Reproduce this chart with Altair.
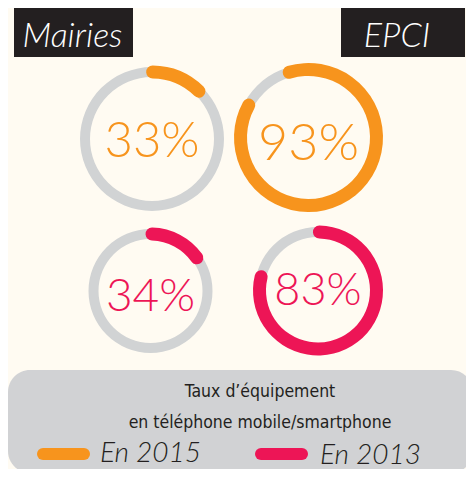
import altair as alt
import pandas as pd

# ---- data ----
groups = ["Mairies", "EPCI"]
years = ["En 2015", "En 2013"]
ring_group = ["Mairies", "EPCI", "Mairies", "EPCI"]
ring_year = ["En 2015", "En 2015", "En 2013", "En 2013"]
ring_label = ["33%", "93%", "34%", "83%"]
arc_start = [-5, -22, -5, -5]      # degrees clockwise from 12 o'clock, as drawn
arc_end = [50, 304, 61, 290]
title_lines = ["Taux d\u2019équipement", "en téléphone mobile/smartphone"]

# ---- styles ----
ORANGE = "#F7941D"
PINK = "#ED1556"
RING_GRAY = "#D1D3D4"
PANEL = "#D1D2D4"
DARK = "#231F20"
BG = "#FFFBF2"
W, H = 458, 461
TITLE_FONT = "'DejaVu Sans Condensed', 'Liberation Sans Narrow', 'Roboto Condensed', Roboto"

color_scale = alt.Scale(domain=years, range=[ORANGE, PINK])
theta_scale = alt.Scale(domain=[0, 360], range=[0, 6.283185307179586])

# per ring: cx, cy, gray outer, gray inner, colour outer, colour inner, font size, text baseline
ring_layout = [
    (144, 131, 72, 62, 73.5, 60.5, 49, 149),
    (300.5, 129.5, 73, 63, 74.5, 61.5, 52, 152),
    (142.5, 283, 62, 52, 63.5, 50.5, 46, 303),
    (310, 282.5, 63.5, 53.5, 65, 52, 45, 297),
]

layers = []
for i, (cx, cy, go, gi, co, ci, fs, tb) in enumerate(ring_layout):
    df = pd.DataFrame({
        "group": [ring_group[i]],
        "year": [ring_year[i]],
        "label": [ring_label[i]],
        "start": [arc_start[i]],
        "end": [arc_end[i]],
    })
    base = alt.Chart(df)
    gray = base.mark_arc(theta=0, theta2=6.2832, radius=go, radius2=gi, color=RING_GRAY).encode(
        x=alt.value(cx), y=alt.value(cy)
    )
    col = base.mark_arc(radius=co, radius2=ci, cornerRadius=(co - ci) / 2).encode(
        theta=alt.Theta("start:Q", scale=theta_scale, stack=None),
        theta2="end:Q",
        color=alt.Color("year:N", scale=color_scale, legend=None),
        x=alt.value(cx), y=alt.value(cy),
    )
    txt = base.mark_text(font="Lato", fontWeight=300, fontSize=fs, align="center",
                         baseline="alphabetic").encode(
        text="label:N",
        color=alt.Color("year:N", scale=color_scale, legend=None),
        x=alt.value(cx), y=alt.value(tb),
    )
    layers += [gray, col, txt]

# header boxes
header_layout = [(6, 125, 64.5), (333, 457, 389)]
for g, (x0, x1, tx) in zip(groups, header_layout):
    hdf = pd.DataFrame({"group": [g]})
    hb = alt.Chart(hdf)
    layers.append(hb.mark_rect(color=DARK).encode(
        x=alt.value(x0), x2=alt.value(x1), y=alt.value(0), y2=alt.value(49)))
    layers.append(hb.mark_text(font="Lato", fontStyle="italic", fontWeight=300, fontSize=34,
                               color="white", align="center", baseline="alphabetic").encode(
        text="group:N", x=alt.value(tx), y=alt.value(39)))

# bottom panel
pdf = pd.DataFrame({"t": [0]})
layers.append(alt.Chart(pdf).mark_rect(color=PANEL, cornerRadius=22).encode(
    x=alt.value(0), x2=alt.value(465), y=alt.value(362), y2=alt.value(465)))

for line, yb in zip(title_lines, [389, 420]):
    tdf = pd.DataFrame({"t": [line]})
    layers.append(alt.Chart(tdf).mark_text(font=TITLE_FONT, fontSize=17.5, fontWeight=500,
                                           color=DARK, align="center", baseline="alphabetic").encode(
        text="t:N", x=alt.value(252), y=alt.value(yb)))

# legend
leg_layout = [(35, 76, 446, 92, 454), (253, 294, 446, 312, 456)]
for yr, (lx0, lx1, ly, tx, tb) in zip(years, leg_layout):
    ldf = pd.DataFrame({"year": [yr]})
    lb = alt.Chart(ldf)
    layers.append(lb.mark_rule(strokeWidth=12, strokeCap="round").encode(
        x=alt.value(lx0), x2=alt.value(lx1), y=alt.value(ly),
        color=alt.Color("year:N", scale=color_scale, legend=None)))
    layers.append(lb.mark_text(font="Lato", fontStyle="italic", fontWeight=300, fontSize=28,
                               color=DARK, align="left", baseline="alphabetic").encode(
        text="year:N", x=alt.value(tx), y=alt.value(tb)))

chart = alt.layer(*layers).properties(
    width=W, height=H, background=BG,
    autosize=alt.AutoSizeParams(type="fit", contains="padding"),
    padding=0,
).configure_view(stroke=None)

chart.save("out.html", embed_options={"renderer": "svg", "actions": False})
